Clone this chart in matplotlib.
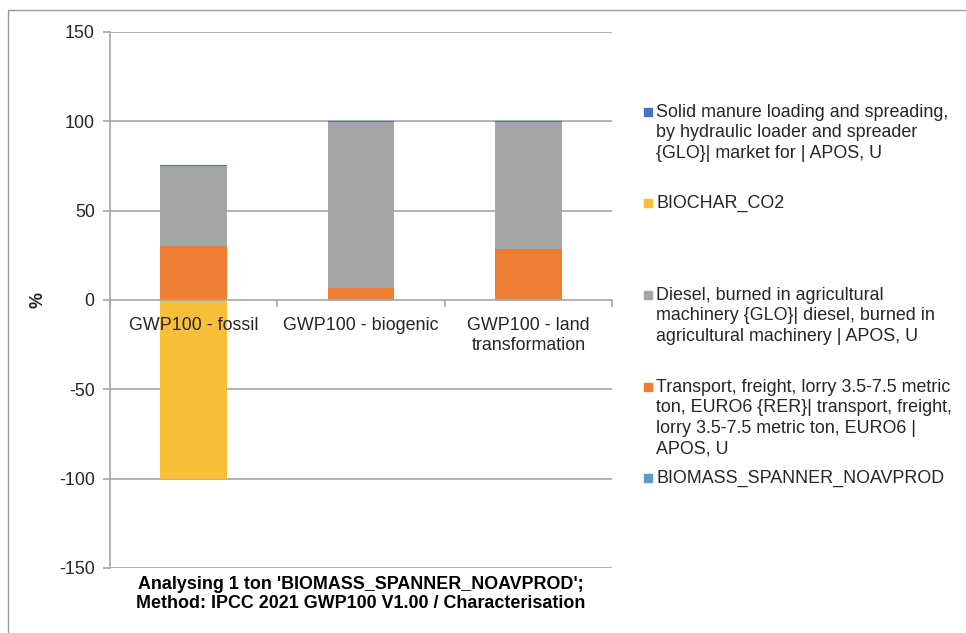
import matplotlib
matplotlib.use("Agg")
import matplotlib.pyplot as plt
from matplotlib.patches import Rectangle
from matplotlib.lines import Line2D
import numpy as np

plt.rcParams['font.family'] = ['Liberation Sans', 'DejaVu Sans']

categories = ["GWP100 - fossil", "GWP100 - biogenic", "GWP100 - land\ntransformation"]
series_names = [
    "BIOMASS_SPANNER_NOAVPROD",
    "Transport, freight, lorry 3.5-7.5 metric\nton, EURO6 {RER}| transport, freight,\nlorry 3.5-7.5 metric ton, EURO6 |\nAPOS, U",
    "Diesel, burned in agricultural\nmachinery {GLO}| diesel, burned in\nagricultural machinery | APOS, U",
    "BIOCHAR_CO2",
    "Solid manure loading and spreading,\nby hydraulic loader and spreader\n{GLO}| market for | APOS, U",
]
biomass = [0.0, 0.0, 0.0]
transport = [30.5, 6.9, 28.7]
diesel = [44.4, 92.9, 71.1]
biochar = [-100.0, 0.0, 0.0]
manure = [0.5, 0.25, 0.25]
series_values = [biomass, transport, diesel, biochar, manure]
colors = ["#5B9BD5", "#ED7D31", "#A5A5A5", "#F9BF3B", "#4472C4"]

yticks = [-150, -100, -50, 0, 50, 100, 150]
y_label = "%"
x_title = "Analysing 1 ton 'BIOMASS_SPANNER_NOAVPROD';\nMethod: IPCC 2021 GWP100 V1.00 / Characterisation"

W, H = 966, 633
fig = plt.figure(figsize=(W / 100, H / 100), dpi=100)
ax = fig.add_axes([110 / W, (H - 568) / H, (612 - 110) / W, (568 - 32) / H])

x = np.arange(len(categories))
pos_bottom = np.zeros(len(categories))
neg_bottom = np.zeros(len(categories))
for vals, c in zip(series_values, colors):
    v = np.array(vals, dtype=float)
    bottoms = np.where(v >= 0, pos_bottom, neg_bottom)
    ax.bar(x, v, width=0.4, bottom=bottoms, color=c, zorder=2, linewidth=0)
    pos_bottom = pos_bottom + np.where(v > 0, v, 0)
    neg_bottom = neg_bottom + np.where(v < 0, v, 0)

ax.set_xlim(-0.5, len(categories) - 0.5)
ax.set_ylim(-150, 150)
ax.set_yticks(yticks)
ax.set_yticklabels([str(t) for t in yticks])
for t in yticks:
    if t != 0:
        ax.axhline(t, color="#A6A6A6", linewidth=1.2, zorder=1)

for s in ["top", "right"]:
    ax.spines[s].set_visible(False)
ax.spines["left"].set_color("#A6A6A6")
ax.spines["left"].set_linewidth(1.2)
ax.spines["bottom"].set_position(("data", 0))
ax.spines["bottom"].set_color("#A6A6A6")
ax.spines["bottom"].set_linewidth(1.2)
ax.spines["bottom"].set_zorder(4)
ax.xaxis.set_zorder(5)

ax.set_xticks(x)
ax.set_xticklabels(categories, fontsize=12.9, color="#262626", linespacing=1.22)
ax.set_xticks(np.arange(-0.5, len(categories)), minor=True)
ax.tick_params(axis="x", which="major", length=0, pad=12)
ax.tick_params(axis="x", which="minor", length=5, direction="out", color="#A6A6A6", width=1.2)
ax.tick_params(axis="y", length=5, direction="out", color="#A6A6A6", width=1.2,
               labelsize=12.9, labelcolor="#262626", pad=6)

fig.text(38 / W, 1 - 300 / H, y_label, rotation=90, ha="center", va="center",
         fontsize=12.9, fontweight="bold", color="#262626")
fig.text(361 / W, 1 - 576 / H, x_title, ha="center", va="top", fontsize=12.9,
         fontweight="bold", color="#000000", linespacing=1.15)

# legend (Excel order: reversed series)
legend_y = [112, 203, 295, 387, 478]
for yc, name, c in zip(legend_y, series_names[::-1], colors[::-1]):
    fig.patches.append(Rectangle((644 / W, 1 - (yc + 4) / H), 8 / W, 8 / H,
                                 transform=fig.transFigure, color=c, zorder=5))
    fig.text(656 / W, 1 - (yc - 8) / H, name, ha="left", va="top",
             fontsize=12.9, color="#262626", linespacing=1.26)

# outer chart border (partially visible)
fig.add_artist(Line2D([8 / W, 8 / W, 1.0], [0.0, 1 - 10 / H, 1 - 10 / H],
                      transform=fig.transFigure, color="#9A9A9A", linewidth=1.0))

fig.savefig("out.png", dpi=100)
